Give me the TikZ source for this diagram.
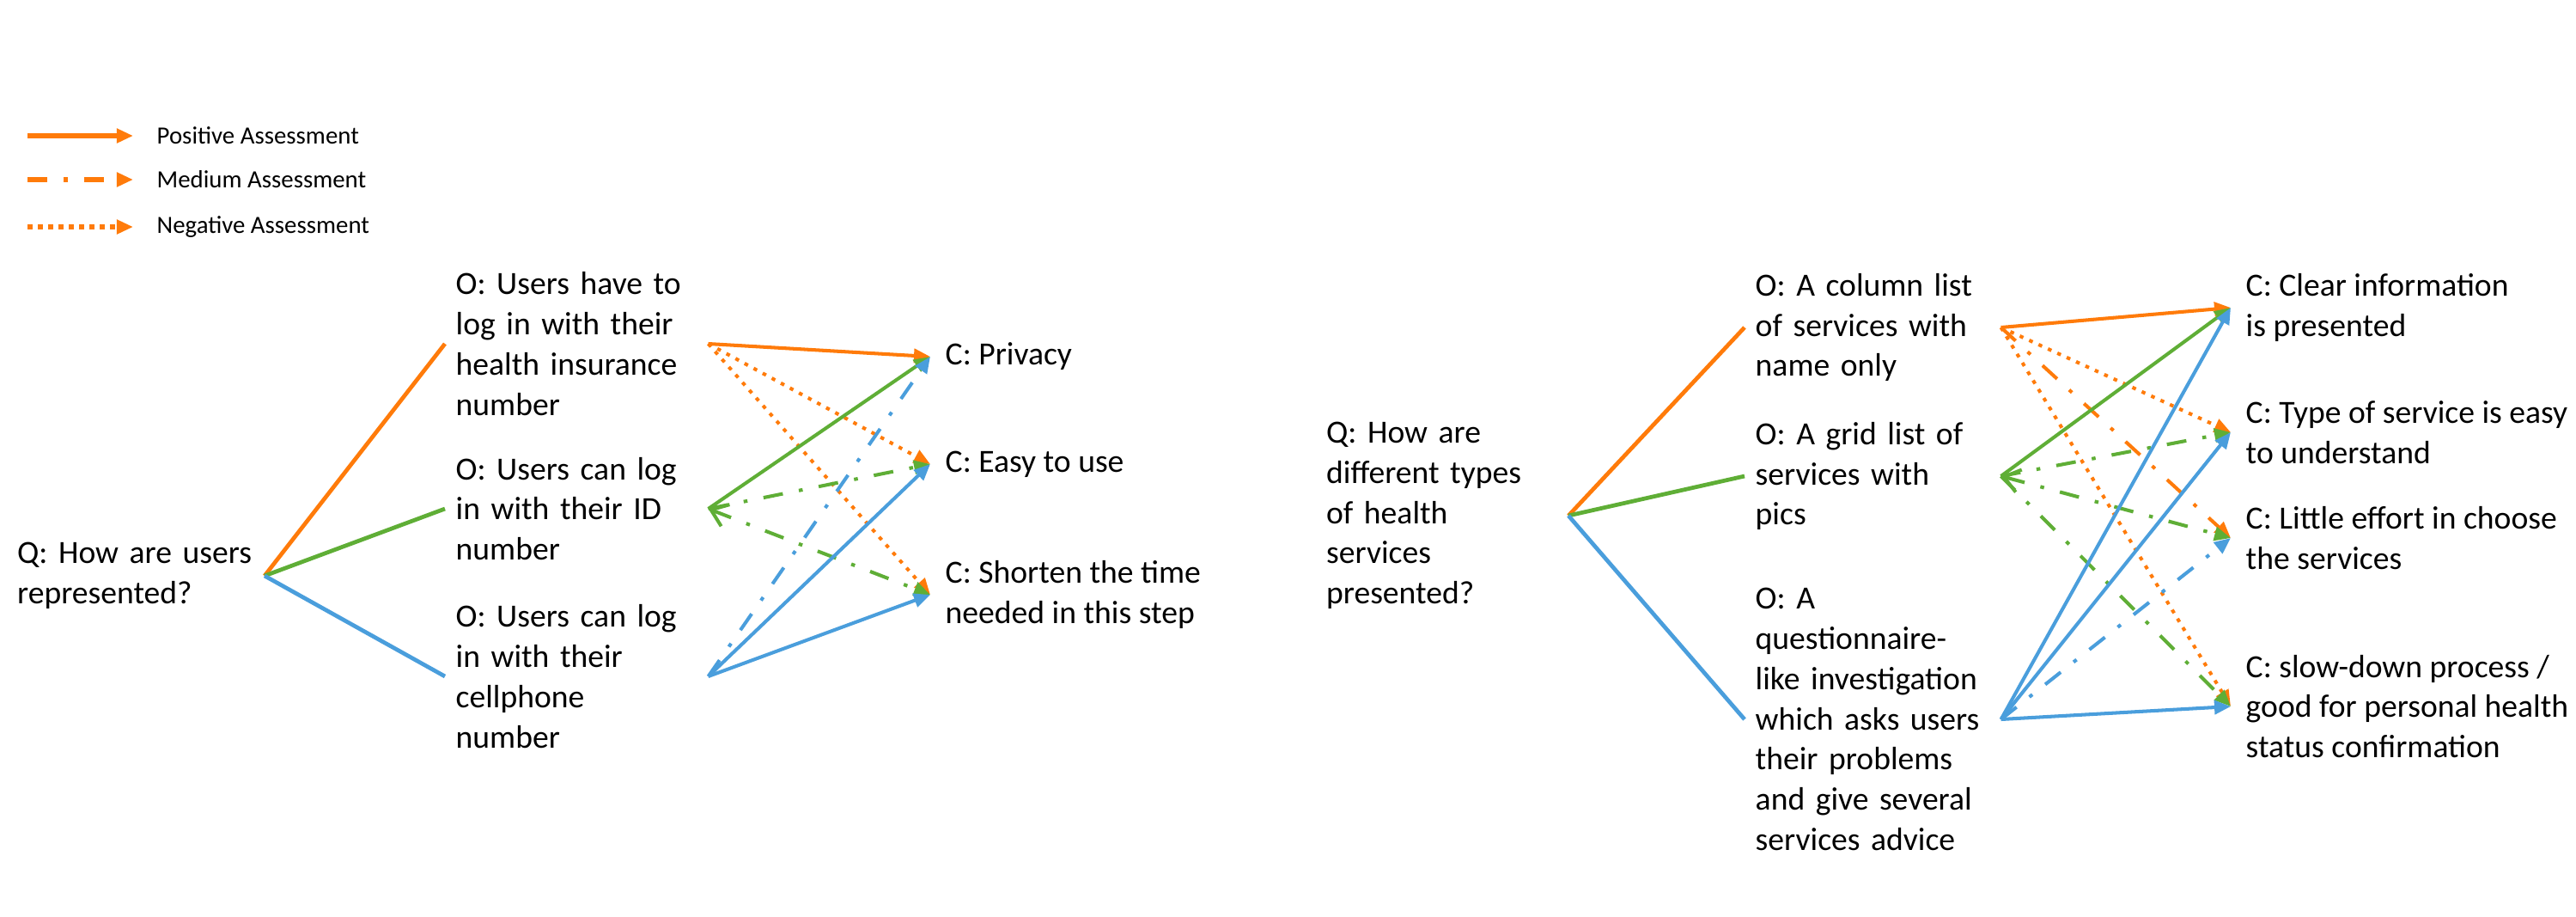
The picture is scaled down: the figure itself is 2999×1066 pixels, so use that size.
\documentclass[tikz,border=0pt]{standalone}
\usepackage{fontspec}
\setmainfont{Carlito}
\usepackage{tikz}
\usetikzlibrary{arrows.meta}
\definecolor{qorange}{HTML}{FF7B0A}
\definecolor{qgreen}{HTML}{5FAE36}
\definecolor{qblue}{HTML}{4A9EDC}

\begin{document}
\begin{tikzpicture}[x=0.01cm,y=-0.01cm,font=\fontsize{10.7}{13.3}\selectfont,
  >={Triangle[length=0.19cm,width=0.16cm]},
  qs/.style={anchor=east,inner sep=0pt,align=left,text width=#1},
  os/.style={anchor=west,inner xsep=0.12cm,inner ysep=0pt,align=left,text width=#1},
  cs/.style={anchor=west,inner xsep=0.17cm,inner ysep=0pt,align=left},
  lg/.style={anchor=west,inner xsep=0.27cm,inner ysep=0pt,font=\fontsize{8.2}{10}\selectfont},
  qo/.style={line width=1.35pt},
  posarr/.style={->,line width=1.15pt},
  medarr/.style={->,line width=1.15pt,dash pattern=on 0.23cm off 0.19cm on 0.045cm off 0.19cm},
  negarr/.style={->,line width=1.15pt,dash pattern=on 0.045cm off 0.075cm},
  legneg/.style={negarr,dash pattern=on 0.06cm off 0.06cm}]
\useasboundingbox (0,0) rectangle (2999,1066);

% legend
\foreach \n/\t/\y/\s in {lpos/Positive/158/posarr,lmed/Medium/209/medarr,lneg/Negative/264/legneg}{
  \coordinate (\n0) at (32,\y);
  \node[lg] (\n) at (155,\y) {\t\ Assessment};
  \draw[\s,qorange,line width=1.6pt] (\n0) -- (\n);
}

% users
\node[qs=2.87cm] (qa) at (308,670) {Q: How are users\\represented?};
\node[os=2.81cm] (oa1) at (518,400) {O: Users have to\\log in with their\\health insurance\\number};
\node[os=2.81cm] (oa2) at (518,592) {O: Users can log\\in with their ID\\number};
\node[os=2.81cm] (oa3) at (518,787) {O: Users can log\\in with their\\cellphone\\number};
\node[cs] (ca1) at (1083,415) {C: Privacy};
\node[cs] (ca2) at (1083,540) {C: Easy to use};
\node[cs] (ca3) at (1083,692) {C: Shorten the time\\needed in this step};

% services
\node[qs=2.81cm] (qb) at (1826,600) {Q: How are\\different types\\of health\\services\\presented?};
\node[os=2.73cm] (ob1) at (2031,381) {O: A column list\\of services with\\name only};
\node[os=2.73cm] (ob2) at (2031,554) {O: A grid list of\\services with\\pics};
\node[os=2.73cm] (ob3) at (2031,837) {O: A\\questionnaire-\\like investigation\\which asks users\\their problems\\and give several\\services advice};
\node[cs] (cb1) at (2597,358) {C: Clear information\\is presented};
\node[cs] (cb2) at (2597,503) {C: Type of service is easy\\to understand};
\node[cs] (cb3) at (2597,626) {C: Little effort in choose\\the services};
\node[cs] (cb4) at (2597,822) {C: slow-down process /\\good for personal health\\status confirmation};

\foreach \i/\c in {1/qorange,2/qgreen,3/qblue}{
  \draw[qo,\c] (qa.east) -- (oa\i.west);
  \draw[qo,\c] (qb.east) -- (ob\i.west);
}

% assessments
\foreach \b/\s in {1/posarr,2/negarr,3/negarr} \draw[\s,qorange] (oa1.east) -- (ca\b.west);
\foreach \b/\s in {1/posarr,2/medarr} \draw[\s,qgreen] (oa2.east) -- (ca\b.west);
\draw[medarr,qgreen,{Straight Barb[length=0.18cm,width=0.27cm]}->] (oa2.east) -- (ca3.west);
\foreach \b/\s in {1/medarr,2/posarr,3/posarr} \draw[\s,qblue] (oa3.east) -- (ca\b.west);

\foreach \b/\s in {1/posarr,2/negarr,3/medarr,4/negarr} \draw[\s,qorange] (ob1.east) -- (cb\b.west);
\foreach \b/\s in {1/posarr,2/medarr,4/medarr} \draw[\s,qgreen] (ob2.east) -- (cb\b.west);
\draw[medarr,qgreen,{Straight Barb[length=0.18cm,width=0.27cm]}->] (ob2.east) -- (cb3.west);
\foreach \b/\s in {1/posarr,2/posarr,3/medarr,4/posarr} \draw[\s,qblue] (ob3.east) -- (cb\b.west);
\end{tikzpicture}
\end{document}
